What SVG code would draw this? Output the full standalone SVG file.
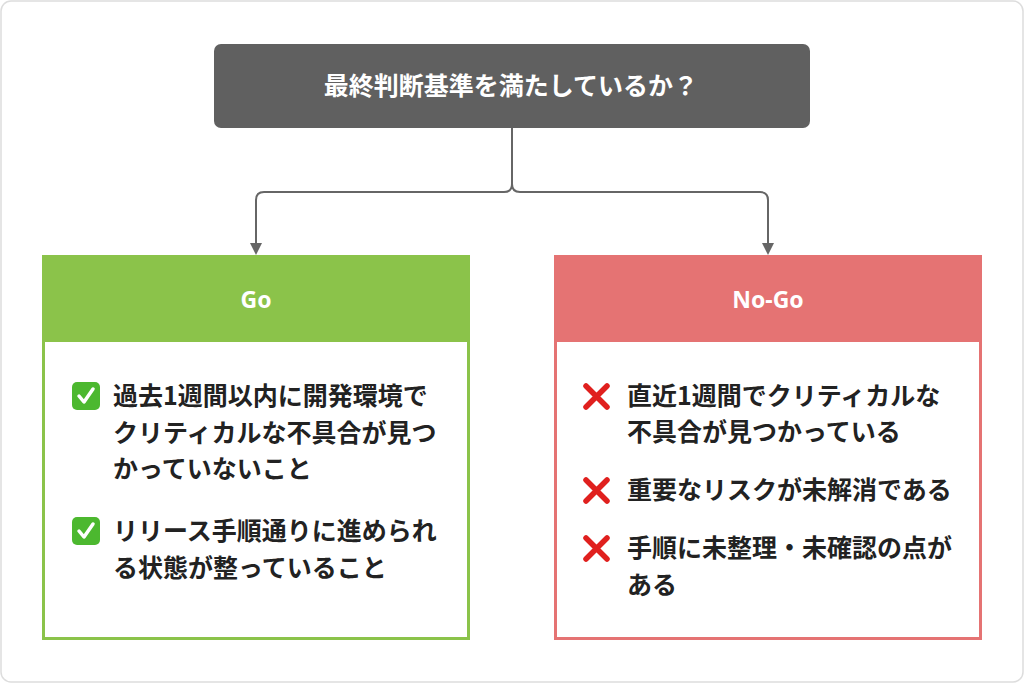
<svg xmlns="http://www.w3.org/2000/svg" width="1024" height="683" viewBox="0 0 1024 683">
<style>
.t{font-family:"Noto Sans CJK JP","Noto Sans",sans-serif;font-weight:700;font-size:25px;fill:#222}
.h{font-family:"Noto Sans","Noto Sans CJK JP",sans-serif;font-weight:700;font-size:23px;fill:#fff;text-anchor:middle}
.r{font-family:"Noto Sans CJK JP","Noto Sans",sans-serif;font-weight:700;font-size:25px;fill:#fff;text-anchor:middle}
.c{fill:none;stroke:#666;stroke-width:2}
</style>
<defs>
<g id="chk"><rect x="0" y="0" width="28" height="28" rx="5" fill="#4cb82f"/><path d="M7,14 L12,20 L21,7" fill="none" stroke="#fff" stroke-width="3.5" stroke-linecap="round" stroke-linejoin="round"/></g>
<g id="crs"><path d="M3,3 L24,24 M24,3 L3,24" stroke="#e0201e" stroke-width="5.5" stroke-linecap="round"/></g>
</defs>
<rect x="1" y="1" width="1022" height="681" rx="10" fill="#fff" stroke="#ddd" stroke-width="1.5"/>
<g id="connectors">
<path class="c" d="M512,128 V184 Q512,192 504,192 H264 Q256,192 256,200 V244"/>
<path class="c" d="M512,184 Q512,192 520,192 H760 Q768,192 768,200 V244"/>
<path d="M250,243 L262,243 L256,255 Z" fill="#666"/>
<path d="M762,243 L774,243 L768,255 Z" fill="#666"/>
</g>
<g id="root">
<rect x="214" y="44" width="596" height="84" rx="7" fill="#606060"/>
<text class="r" x="511" y="95">最終判断基準を満たしているか？</text>
</g>
<g id="go">
<rect x="43.5" y="256.5" width="425" height="382" fill="#fff" stroke="#8BC34A" stroke-width="3"/>
<rect x="42" y="255" width="428" height="87" fill="#8BC34A"/>
<text class="h" x="256" y="308">Go</text>
<use href="#chk" x="72" y="382"/>
<text class="t" x="113" y="405">過去1週間以内に開発環境で</text>
<text class="t" x="113" y="442">クリティカルな不具合が見つ</text>
<text class="t" x="113" y="478">かっていないこと</text>
<use href="#chk" x="72" y="517"/>
<text class="t" x="113" y="540">リリース手順通りに進められ</text>
<text class="t" x="113" y="577">る状態が整っていること</text>
</g>
<g id="nogo">
<rect x="555.5" y="256.5" width="425" height="382" fill="#fff" stroke="#E57373" stroke-width="3"/>
<rect x="554" y="255" width="428" height="87" fill="#E57373"/>
<text class="h" x="768" y="308">No-Go</text>
<use href="#crs" x="583" y="383"/>
<text class="t" x="627" y="405">直近1週間でクリティカルな</text>
<text class="t" x="627" y="441">不具合が見つかっている</text>
<use href="#crs" x="583" y="477"/>
<text class="t" x="627" y="499">重要なリスクが未解消である</text>
<use href="#crs" x="583" y="535"/>
<text class="t" x="627" y="557">手順に未整理・未確認の点が</text>
<text class="t" x="627" y="594">ある</text>
</g>
</svg>
